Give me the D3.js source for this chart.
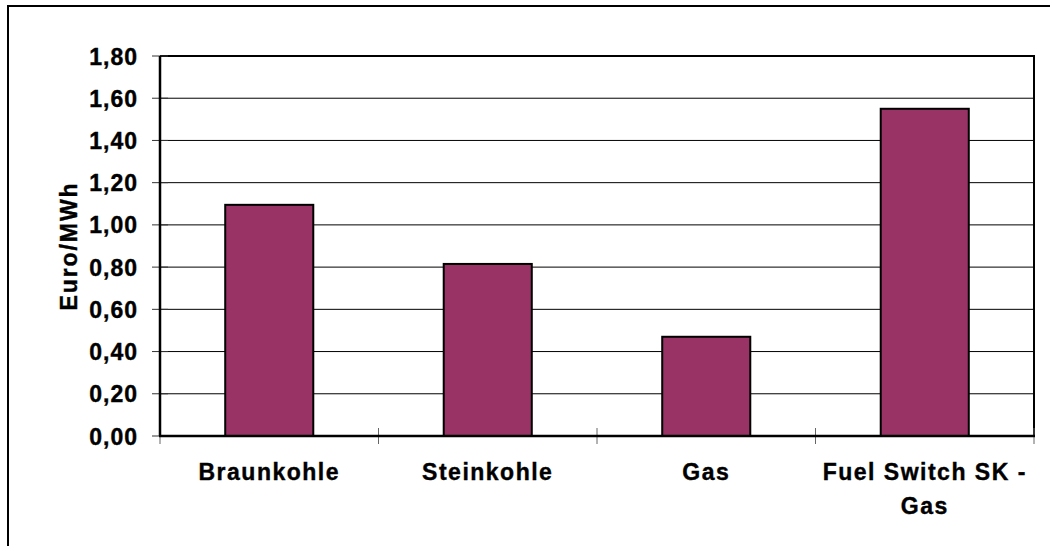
<!DOCTYPE html>
<html>
<head>
<meta charset="utf-8">
<script src="https://cdn.jsdelivr.net/npm/d3@7"></script>
<style>
  body { margin: 0; background: #fff; }
  text { font-family: "Liberation Sans", Arial, sans-serif; font-weight: bold; fill: #000; stroke: #000; stroke-width: 0.4px; }
</style>
</head>
<body>
<svg id="scene" width="1050" height="546"></svg>
<script>
// data
const categories = ['Braunkohle', 'Steinkohle', 'Gas', 'Fuel Switch SK - Gas'];
const categoryLines = [['Braunkohle'], ['Steinkohle'], ['Gas'], ['Fuel Switch SK -', 'Gas']];
const values = [1.095, 0.815, 0.47, 1.55];
const yTicks = [0, 0.2, 0.4, 0.6, 0.8, 1.0, 1.2, 1.4, 1.6, 1.8];
const yLabel = 'Euro/MWh';

const barColor = '#993366';

const svg = d3.select('#scene');
const locale = d3.formatLocale({decimal: ',', thousands: '.', grouping: [3], currency: ['', '€']});
const fmt = locale.format('.2f');

let scaleX = d3.scaleBand().domain(categories).range([160, 1034]).padding(0);
let scaleY = d3.scaleLinear().domain([0, 1.8]).range([436, 56]);

// outer frame, right and bottom run off the picture
svg.append('rect')
	.attr('x', 8).attr('y', 6)
	.attr('width', 1100).attr('height', 600)
	.attr('fill', 'none').attr('stroke', '#000').attr('stroke-width', 2);

// gridlines
svg.append('g').selectAll('line').data(yTicks.slice(1))
	.enter().append('line')
	.attr('x1', 160).attr('x2', 1034)
	.attr('y1', (d) => scaleY(d)).attr('y2', (d) => scaleY(d))
	.attr('stroke', '#000').attr('stroke-width', 1);

// plot border: right and top
svg.append('path')
	.attr('d', `M160,${scaleY(1.8)}H1034V${scaleY(0)}`)
	.attr('fill', 'none').attr('stroke', '#000').attr('stroke-width', 2);

// y ticks
svg.append('g').selectAll('line').data(yTicks)
	.enter().append('line')
	.attr('x1', 152).attr('x2', 168)
	.attr('y1', (d) => scaleY(d)).attr('y2', (d) => scaleY(d))
	.attr('stroke', '#333').attr('stroke-width', 1);

// x ticks at band boundaries
let bounds = categories.map((c) => scaleX(c)).concat([scaleX.range()[1]]);
svg.append('g').selectAll('line').data(bounds)
	.enter().append('line')
	.attr('x1', (d) => d).attr('x2', (d) => d)
	.attr('y1', 428).attr('y2', 444)
	.attr('stroke', '#666').attr('stroke-width', 1);

// bars
let barW = scaleX.bandwidth() * 0.403;
svg.append('g').selectAll('rect').data(values)
	.enter().append('rect')
	.attr('x', (d, i) => scaleX(categories[i]) + (scaleX.bandwidth() - barW) / 2)
	.attr('y', (d) => scaleY(d))
	.attr('width', barW)
	.attr('height', (d) => scaleY(0) - scaleY(d))
	.attr('fill', barColor)
	.attr('stroke', '#000').attr('stroke-width', 2);

// axes lines
svg.append('line')
	.attr('x1', 160).attr('x2', 160)
	.attr('y1', scaleY(1.8)).attr('y2', scaleY(0))
	.attr('stroke', '#000').attr('stroke-width', 2.5);
svg.append('line')
	.attr('x1', 159).attr('x2', 1035)
	.attr('y1', scaleY(0)).attr('y2', scaleY(0))
	.attr('stroke', '#000').attr('stroke-width', 2.5);

// y tick labels
svg.append('g').selectAll('text').data(yTicks)
	.enter().append('text')
	.attr('x', 138)
	.attr('y', (d) => scaleY(d) + 8.5)
	.attr('text-anchor', 'end')
	.attr('font-size', 23)
	.attr('letter-spacing', 1)
	.text((d) => fmt(d));

// category labels
let labels = svg.append('g').selectAll('text').data(categoryLines)
	.enter().append('text')
	.attr('text-anchor', 'middle')
	.attr('font-size', 23)
	.attr('letter-spacing', 1.5);
labels.each(function (lines, i) {
	let cx = scaleX(categories[i]) + scaleX.bandwidth() / 2;
	d3.select(this).selectAll('tspan').data(lines)
		.enter().append('tspan')
		.attr('x', cx)
		.attr('y', (d, j) => 480 + j * 34)
		.text((d) => d);
});

// y axis title
svg.append('text')
	.attr('transform', `translate(77,${(scaleY(0) + scaleY(1.8)) / 2}) rotate(-90)`)
	.attr('text-anchor', 'middle')
	.attr('font-size', 23)
	.attr('letter-spacing', 1.9)
	.text(yLabel);
</script>
</body>
</html>
